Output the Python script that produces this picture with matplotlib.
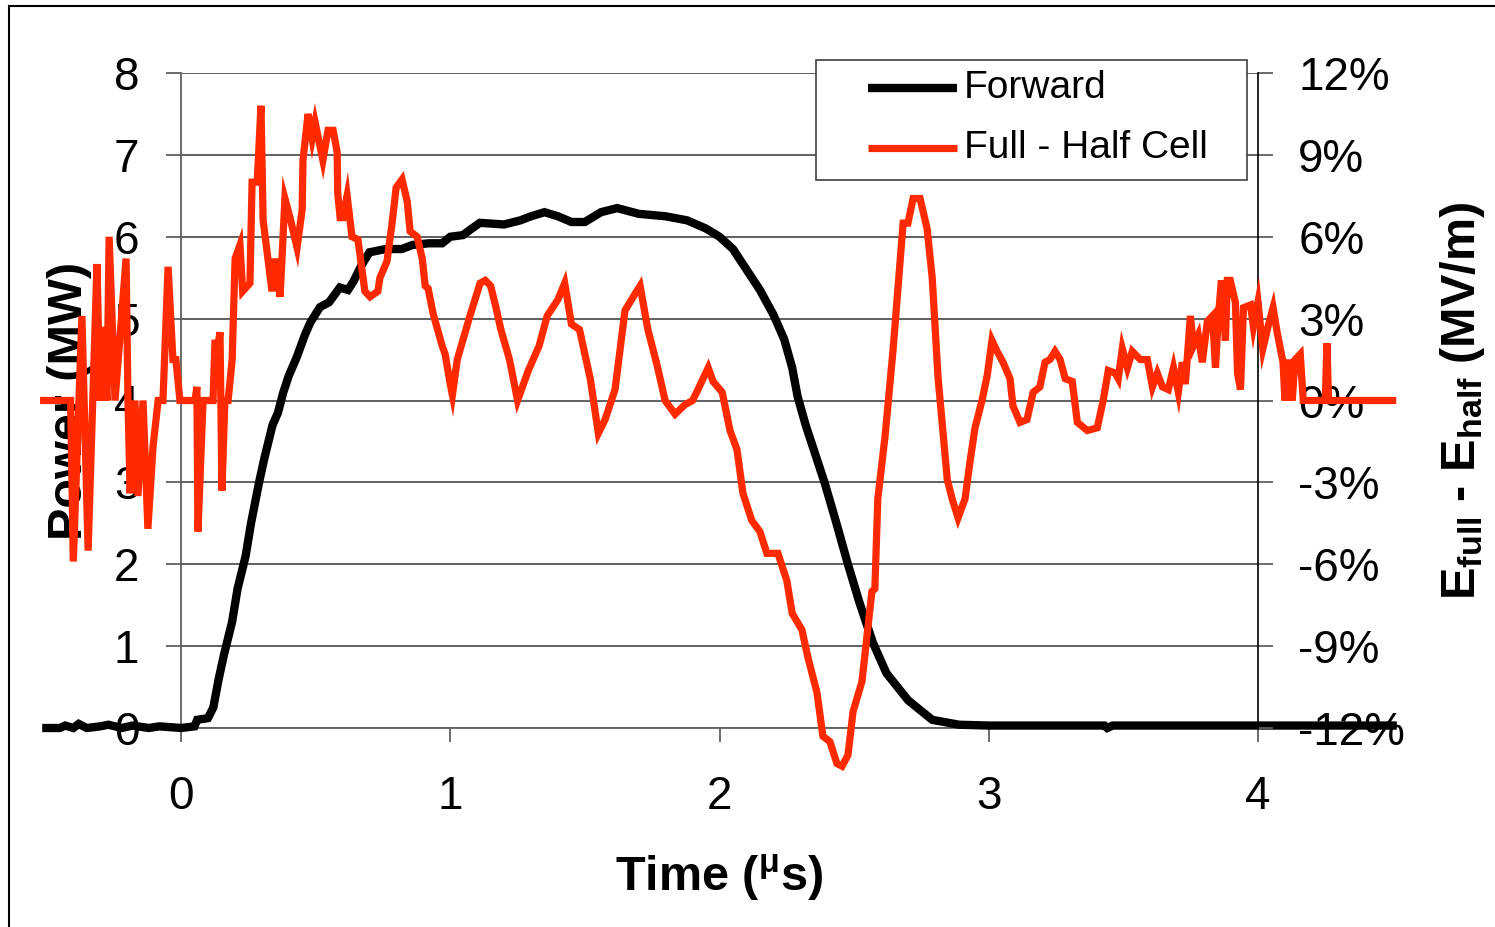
import matplotlib
matplotlib.use("Agg")
import matplotlib.pyplot as plt
from matplotlib.patches import Rectangle
from matplotlib.lines import Line2D

plt.rcParams['font.family'] = ['Liberation Sans', 'DejaVu Sans']
plt.rcParams['mathtext.fontset'] = 'custom'
plt.rcParams['mathtext.rm'] = 'Liberation Sans:bold'
plt.rcParams['mathtext.it'] = 'Liberation Sans:bold'
plt.rcParams['mathtext.bf'] = 'Liberation Sans:bold'

# ---- data -----------------------------------------------------------
fwd_t = [-0.5, -0.45, -0.43, -0.40, -0.38, -0.35, -0.30, -0.27, -0.22, -0.18,
         -0.12, -0.08, 0.0, 0.05, 0.06, 0.10, 0.12, 0.14, 0.16, 0.19, 0.21,
         0.24, 0.26, 0.29, 0.31, 0.34, 0.36, 0.38, 0.40, 0.43, 0.46, 0.48,
         0.516, 0.55, 0.59, 0.62, 0.64, 0.67, 0.70, 0.76, 0.82, 0.86, 0.92,
         0.97, 1.0, 1.047, 1.08, 1.11, 1.2, 1.26, 1.3, 1.35, 1.4, 1.45, 1.5,
         1.56, 1.62, 1.7, 1.8, 1.88, 1.95, 2.0, 2.05, 2.1, 2.15, 2.2, 2.24,
         2.27, 2.29, 2.32, 2.35, 2.39, 2.43, 2.477, 2.52, 2.57, 2.62, 2.70,
         2.79, 2.89, 3.0, 3.43, 3.44, 3.46, 4.5]
fwd_mw = [0.0, 0.0, 0.03, 0.0, 0.05, 0.0, 0.02, 0.04, 0.0, 0.03,
          0.0, 0.02, 0.0, 0.02, 0.1, 0.12, 0.25, 0.6, 0.9, 1.3, 1.7,
          2.1, 2.5, 3.0, 3.3, 3.7, 3.85, 4.1, 4.3, 4.53, 4.8, 4.95,
          5.14, 5.2, 5.38, 5.35, 5.45, 5.65, 5.81, 5.85, 5.85, 5.9, 5.92,
          5.92, 6.0, 6.02, 6.1, 6.17, 6.15, 6.2, 6.25, 6.3, 6.25, 6.18, 6.18,
          6.3, 6.35, 6.28, 6.25, 6.2, 6.1, 6.0, 5.85, 5.6, 5.35, 5.05, 4.75,
          4.4, 4.05, 3.7, 3.4, 3.0, 2.55, 2.0, 1.53, 1.04, 0.67, 0.34,
          0.1, 0.04, 0.03, 0.03, 0.0, 0.03, 0.03]

diff_t = [-0.51, -0.41, -0.40, -0.368, -0.345, -0.312, -0.301, -0.290, -0.275,
          -0.267, -0.245, -0.204, -0.197, -0.189, -0.171, -0.160, -0.141,
          -0.123, -0.104, -0.085, -0.067, -0.048, -0.030, -0.019, -0.004,
          0.052, 0.059, 0.063, 0.082, 0.119, 0.126, 0.138, 0.145, 0.152,
          0.163, 0.175, 0.19, 0.201, 0.219, 0.229, 0.256, 0.264, 0.283,
          0.297, 0.305, 0.338, 0.35, 0.368, 0.386, 0.405, 0.431, 0.45,
          0.453, 0.472, 0.487, 0.498, 0.527, 0.546, 0.565, 0.58, 0.582,
          0.591, 0.602, 0.617, 0.635, 0.657, 0.683, 0.702, 0.731, 0.739,
          0.765, 0.784, 0.799, 0.821, 0.84, 0.851, 0.877, 0.896, 0.907,
          0.918, 0.936, 0.97, 0.981, 1.0, 1.008, 1.026, 1.073, 1.111, 1.13,
          1.15, 1.17, 1.188, 1.22, 1.25, 1.29, 1.33, 1.36, 1.4, 1.425, 1.45,
          1.48, 1.52, 1.55, 1.575, 1.612, 1.649, 1.686, 1.705, 1.734, 1.768,
          1.798, 1.835, 1.872, 1.9, 1.92, 1.958, 1.976, 2.01, 2.039, 2.065,
          2.087, 2.12, 2.15, 2.176, 2.217, 2.25, 2.27, 2.306, 2.328, 2.362,
          2.384, 2.41, 2.436, 2.455, 2.477, 2.496, 2.529, 2.566, 2.577,
          2.588, 2.615, 2.645, 2.682, 2.7, 2.719, 2.745, 2.771, 2.79, 2.812,
          2.846, 2.864, 2.886, 2.912, 2.931, 2.949, 2.975, 2.994, 3.012,
          3.031, 3.053, 3.079, 3.09, 3.116, 3.142, 3.165, 3.19, 3.209, 3.227,
          3.246, 3.265, 3.284, 3.31, 3.329, 3.366, 3.403, 3.425, 3.444, 3.47,
          3.481, 3.496, 3.515, 3.533, 3.563, 3.589, 3.608, 3.626, 3.645,
          3.667, 3.686, 3.704, 3.719, 3.73, 3.749, 3.76, 3.778, 3.793, 3.812,
          3.831, 3.842, 3.853, 3.864, 3.879, 3.886, 3.897, 3.916, 3.924,
          3.935, 3.946, 3.972, 3.983, 4.0, 4.018, 4.037, 4.056, 4.071, 4.093,
          4.1, 4.112, 4.127, 4.138, 4.157, 4.168, 4.25, 4.256, 4.262, 4.5]
diff_pct = [0.0, 0.0, -5.9, 3.1, -5.5, 5.0, 0.0, 2.7, 0.0,
            6.0, 0.0, 5.2, 0.0, -3.4, 0.0, -3.5, 0.0,
            -4.7, -1.7, 0.0, 0.0, 4.9, 1.5, 1.5, 0.0,
            0.0, 0.5, -4.8, 0.0, 0.0, 2.1, 2.1, 2.5, -3.3,
            0.0, 0.0, 1.5, 5.2, 5.7, 4.0, 4.3, 8.0, 8.0,
            10.8, 6.6, 4.0, 5.2, 3.8, 7.4, 6.7, 5.6, 7.0,
            8.8, 10.5, 9.6, 10.2, 8.8, 9.9, 9.9, 9.1, 7.6,
            6.7, 6.7, 7.5, 6.0, 5.9, 4.0, 3.8, 4.0, 4.5,
            5.1, 6.5, 7.8, 8.1, 7.3, 6.2, 6.0, 5.2, 4.2,
            4.1, 3.2, 2.0, 1.7, 0.6, 0.2, 1.5, 3.1, 4.3, 4.4,
            4.2, 3.4, 2.6, 1.5, 0.0, 1.1, 2.0, 3.1, 3.7, 4.3, 2.8,
            2.6, 0.8, -1.2, -0.7, 0.4, 3.3, 3.9, 4.2, 2.6, 1.3,
            0.0, -0.5, -0.15, 0.0, 0.4, 1.2, 0.7, 0.3, -1.1, -1.8,
            -3.4, -4.4, -4.8, -5.6, -5.6, -6.6, -7.8, -8.4, -9.4, -10.7,
            -12.3, -12.5, -13.3, -13.4, -13.0, -11.4, -10.3, -7.0, -6.9,
            -3.6, -1.3, 1.9, 6.5, 6.5, 7.4, 7.4, 6.3, 4.5, 0.8,
            -2.9, -3.6, -4.3, -3.6, -2.2, -1.0, 0.0, 0.9, 2.2,
            1.8, 1.4, 0.8, -0.2, -0.8, -0.7, 0.3, 0.5, 1.4, 1.5,
            1.8, 1.5, 0.8, 0.7, -0.8, -1.1, -1.0, 0.0, 1.1, 1.0,
            0.8, 1.9, 1.2, 1.8, 1.5, 1.5, 0.5, 1.0, 0.5,
            0.4, 1.2, 0.3, 1.4, 0.6, 3.1, 2.0, 2.4, 1.4, 2.9,
            3.1, 1.2, 3.1, 4.4, 2.2, 4.4, 4.4, 3.6, 1.0,
            0.4, 3.4, 3.5, 2.7, 3.6, 1.9, 2.7, 3.4, 2.5, 1.4,
            0.0, 1.5, 0.0, 1.5, 1.7, 0.0, 0.0, 2.1, 0.0, 0.0]

x_ticks = [0, 1, 2, 3, 4]
left_ticks = [0, 1, 2, 3, 4, 5, 6, 7, 8]
right_ticks = [-12, -9, -6, -3, 0, 3, 6, 9, 12]
right_labels = ['-12%', '-9%', '-6%', '-3%', '0%', '3%', '6%', '9%', '12%']
series_names = ['Forward', 'Full - Half Cell']

# ---- figure ---------------------------------------------------------
W, H = 1495, 927
fig = plt.figure(figsize=(W / 100, H / 100), dpi=100)
ax = fig.add_axes([181 / W, 1 - 728 / H, (1258 - 181) / W, (728 - 73) / H])
ax2 = ax.twinx()

red = '#FF2A00'
grid_c = '#606060'
lw_fwd = 6.0
lw_diff = 5.2

ax.set_xlim(0, 4)
ax.set_ylim(0, 8)
ax2.set_ylim(-12, 12)

ax.set_yticks(left_ticks)
ax.set_yticklabels([str(v) for v in left_ticks])
ax.set_xticks(x_ticks)
ax.set_xticklabels([str(v) for v in x_ticks])
ax2.set_yticks(right_ticks)
ax2.set_yticklabels(right_labels)

for a in (ax, ax2):
    a.spines['top'].set_visible(False)
ax.spines['right'].set_visible(False)
ax2.spines['left'].set_visible(False)
ax2.spines['bottom'].set_visible(False)
ax.spines['left'].set_color(grid_c)
ax.spines['bottom'].set_color(grid_c)
ax.spines['left'].set_linewidth(1.3)
ax.spines['bottom'].set_linewidth(1.3)
ax2.spines['right'].set_color('black')
ax2.spines['right'].set_linewidth(1.2)

ax.yaxis.grid(True, color=grid_c, linewidth=1.4)
ax.set_axisbelow(True)

ax.tick_params(axis='y', direction='out', length=11, width=1.3, color=grid_c,
               labelsize=33, pad=19)
ax.tick_params(axis='x', direction='out', length=10, width=1.3, color=grid_c,
               labelsize=33, pad=24)
ax2.tick_params(axis='y', direction='out', length=11, width=1.3, color=grid_c,
                labelsize=33, pad=18)

ax.plot(fwd_t, fwd_mw, color='black', linewidth=lw_fwd, clip_on=False,
        solid_joinstyle='miter', zorder=3)
ax2.plot(diff_t, diff_pct, color=red, linewidth=lw_diff, clip_on=False,
         solid_joinstyle='miter', zorder=3)

ax.set_xlabel(r'Time ($^{\mu}$s)', fontsize=35, fontweight='bold', labelpad=24)
ax.set_ylabel('Power (MW)', fontsize=35, fontweight='bold', labelpad=16)
ax2.set_ylabel(r'E$_{\mathrm{full}}$ - E$_{\mathrm{half}}$ (MV/m)', fontsize=35,
               fontweight='bold', labelpad=24)

# ---- legend (drawn in figure pixel coordinates) ---------------------
def fx(px):
    return px / W


def fy(py):
    return 1 - py / H


fig.patches.append(Rectangle((fx(816), fy(180)), fx(1247) - fx(816),
                             fy(60) - fy(180), transform=fig.transFigure,
                             facecolor='white', edgecolor='#404040',
                             linewidth=1.2, zorder=5))
row_y = [88, 148]
row_c = ['black', red]
row_w = [lw_fwd, lw_diff]
for name, ry, c, w in zip(series_names, row_y, row_c, row_w):
    fig.lines.append(Line2D([fx(868), fx(957)], [fy(ry), fy(ry)],
                            transform=fig.transFigure, color=c, linewidth=w,
                            solid_capstyle='butt', zorder=6))
    fig.text(fx(964), fy(ry), name, fontsize=28, va='center', ha='left',
             zorder=6)

# outer chart border
fig.patches.append(Rectangle((9 / W, -0.05), 1.2, 1.05 - 6 / H,
                             transform=fig.transFigure, fill=False,
                             edgecolor='black', linewidth=1.5))

fig.savefig('out.png', dpi=100)
